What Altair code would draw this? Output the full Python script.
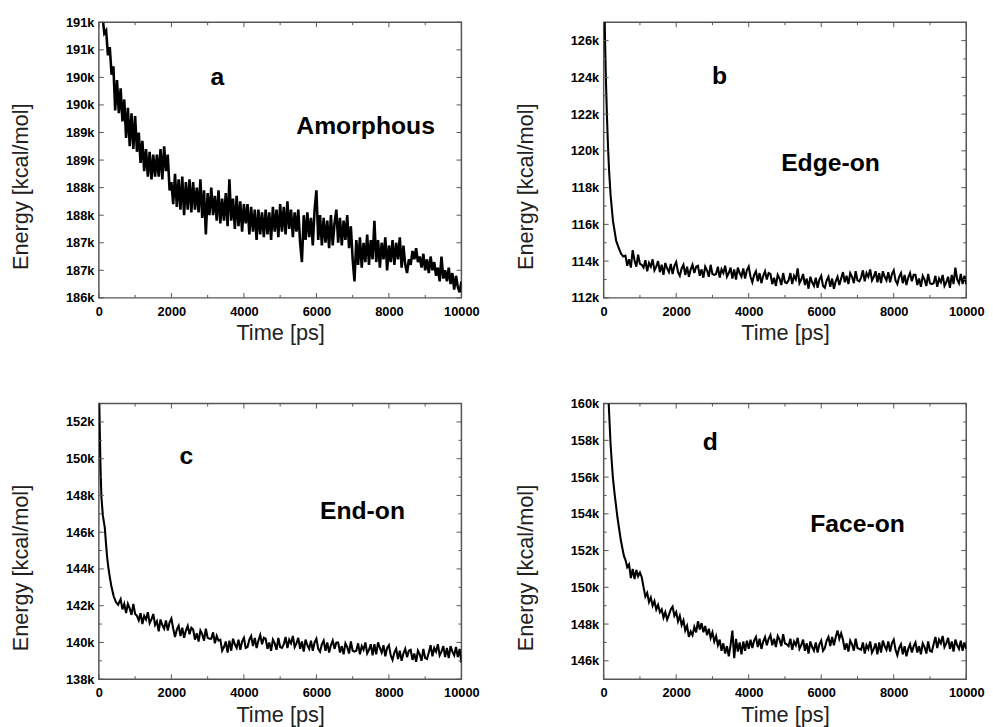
import altair as alt
import pandas as pd

FONT = "Arial, Liberation Sans, sans-serif"

# ---------------- data (energies in thousands of kcal/mol) ----------------
time_a = list(range(100, 10001, 50))
energy_a = [
    191.1, 190.8, 190.85, 190.4, 190.55, 190.05, 190.2, 189.4, 189.95, 189.35,
    189.8, 189.2, 189.6, 188.9, 189.45, 188.75, 189.35, 188.7, 189.3, 188.65,
    189.0, 188.45, 188.85, 188.3, 188.7, 188.2, 188.65, 188.15, 188.6, 188.2,
    188.6, 188.2, 188.7, 188.15, 188.75, 188.3, 188.6, 187.95, 188.1, 187.7,
    188.25, 187.65, 188.15, 187.6, 188.2, 187.5, 188.1, 187.6, 188.15, 187.55,
    188.1, 187.6, 188.0, 187.55, 188.15, 187.45, 187.95, 187.15, 187.9, 187.5,
    188.0, 187.5, 187.85, 187.4, 187.95, 187.35, 187.8, 187.4, 187.9, 187.3,
    188.15, 187.4, 187.8, 187.25, 187.85, 187.3, 187.75, 187.2, 187.7, 187.35,
    187.7, 187.15, 187.65, 187.2, 187.6, 187.05, 187.6, 187.15, 187.55, 187.1,
    187.6, 187.15, 187.55, 187.05, 187.65, 187.2, 187.6, 187.1, 187.7, 187.2,
    187.65, 187.15, 187.75, 187.25, 187.6, 187.1, 187.55, 187.2, 187.6, 187.0,
    186.65, 187.5, 187.05, 187.55, 187.1, 187.45, 186.95, 187.6, 187.95, 187.05,
    187.5, 186.95, 187.45, 187.0, 187.4, 186.9, 187.5, 186.95, 187.35, 187.6,
    187.0, 187.45, 186.95, 187.4, 187.05, 187.5, 186.9, 187.3, 186.7, 186.3,
    187.05, 186.6, 187.1, 186.55, 187.0, 186.65, 187.15, 186.6, 187.05, 186.7,
    187.4, 186.65, 187.05, 186.55, 187.0, 186.7, 187.1, 186.5, 186.95, 186.65,
    187.05, 186.6, 187.0, 186.7, 187.1, 186.55, 186.95, 186.6, 186.45, 186.7,
    186.6, 186.85, 186.7, 186.9, 186.65, 186.75, 186.55, 186.8, 186.5, 186.7,
    186.45, 186.75, 186.5, 186.65, 186.4, 186.55, 186.3, 186.75, 186.35, 186.5,
    186.3, 186.55, 186.25, 186.45, 186.15, 186.4, 186.2, 186.1, 186.3,
]

tail_time = list(range(600, 10001, 50))

head_time_b = [25, 40, 60, 90, 120, 150, 190, 255, 345, 420, 480, 540]
head_energy_b = [127.5, 125.8, 124.0, 121.9, 120.2, 118.9, 117.6, 116.2, 115.1, 114.7, 114.4, 114.25]
tail_energy_b = [
    114.3, 113.75, 114.1, 113.65, 114.6, 114.05, 113.7, 114.35, 113.85, 113.8,
    113.65, 114.05, 113.45, 113.9, 113.7, 114.1, 113.5, 113.7, 114.0, 113.4,
    113.8, 113.25, 113.9, 113.6, 113.4, 113.85, 113.3, 113.75, 113.95, 113.4,
    113.2, 113.6, 113.8, 113.25, 113.7, 113.15, 113.55, 113.8, 113.35, 113.7,
    113.75, 113.2, 113.55, 113.1, 113.7, 113.5, 113.15, 113.8, 113.3, 113.25,
    113.3, 113.7, 113.1, 113.55, 113.35, 113.75, 113.15, 113.35, 113.65, 113.05,
    113.55, 113.0, 113.65, 113.35, 113.15, 113.6, 113.05, 113.5, 113.7, 113.15,
    112.85, 113.25, 113.45, 112.9, 113.35, 112.8, 113.2, 113.45, 113.0, 113.35,
    113.3, 112.75, 113.1, 112.65, 113.25, 113.05, 112.7, 113.35, 112.85, 112.8,
    112.95, 113.35, 112.75, 113.2, 113.0, 113.6, 112.8, 113.0, 113.3, 112.7,
    113.05, 112.5, 113.15, 112.85, 112.65, 113.1, 112.55, 113.0, 113.2, 112.65,
    112.55, 112.95, 113.15, 112.6, 113.05, 112.5, 112.9, 113.15, 112.7, 113.05,
    113.4, 112.85, 113.2, 112.75, 113.35, 113.15, 112.8, 113.45, 112.95, 112.9,
    113.1, 113.5, 112.9, 113.35, 113.15, 113.55, 112.95, 113.15, 113.45, 112.85,
    113.35, 112.8, 113.45, 113.15, 112.95, 113.4, 112.85, 113.3, 113.5, 112.95,
    112.75, 113.15, 113.35, 112.8, 113.25, 112.7, 113.1, 113.35, 112.9, 113.25,
    113.25, 112.7, 113.05, 112.6, 113.2, 113.0, 112.65, 113.3, 112.8, 112.75,
    112.8, 113.2, 112.6, 113.05, 112.85, 113.25, 112.65, 112.85, 113.15, 112.55,
    113.25, 112.75, 113.65, 113.0, 112.8, 113.3, 112.75, 113.2,
    112.75,
]

head_time_c = [8, 25, 45, 70, 110, 163, 200, 227, 260, 300, 350, 410, 470, 530]
head_energy_c = [153.5, 151.5, 149.5, 147.9, 146.9, 146.25, 145.3, 144.65, 144.1, 143.57, 143.0, 142.5, 142.2, 142.05]
tail_energy_c = [
    142.35, 141.8, 142.1, 141.6, 142.1, 141.85, 141.5, 142.1, 141.55, 141.45,
    141.2, 141.6, 141.0, 141.45, 141.25, 141.65, 141.05, 141.25, 141.55, 140.95,
    141.15, 140.6, 141.25, 140.95, 140.75, 141.2, 140.65, 141.1, 141.3, 140.75,
    140.3, 140.7, 140.9, 140.35, 140.8, 140.25, 140.65, 140.9, 140.45, 140.8,
    140.7, 140.15, 140.5, 140.05, 140.65, 140.45, 140.1, 140.75, 140.25, 140.2,
    140.2, 140.55, 139.95, 140.35, 140.1, 140.15, 139.55, 139.75, 140.05, 139.45,
    140.1, 139.55, 140.2, 139.9, 139.7, 140.15, 139.6, 140.05, 140.25, 139.7,
    139.75, 140.15, 140.35, 139.8, 140.25, 139.7, 140.1, 140.4, 139.9, 140.25,
    140.2, 139.65, 140.0, 139.55, 140.15, 139.95, 139.6, 140.25, 139.75, 139.7,
    139.9, 140.3, 139.7, 140.15, 139.95, 140.35, 139.75, 139.95, 140.25, 139.65,
    140.05, 139.5, 140.15, 139.85, 139.65, 140.1, 139.55, 140.0, 140.2, 139.65,
    139.5, 139.9, 140.1, 139.55, 140.0, 139.45, 139.85, 140.1, 139.65, 140.0,
    140.0, 139.45, 139.8, 139.35, 139.95, 139.75, 139.4, 140.05, 139.55, 139.5,
    139.55, 139.95, 139.35, 139.8, 139.6, 140.0, 139.4, 139.6, 139.9, 139.3,
    139.9, 139.35, 140.0, 139.7, 139.45, 139.85, 139.25, 139.7, 139.85, 139.3,
    139.05, 139.45, 139.65, 139.1, 139.55, 139.0, 139.4, 139.65, 139.2, 139.55,
    139.6, 139.05, 139.4, 138.95, 139.55, 139.35, 139.0, 139.65, 139.15, 139.1,
    139.45, 139.85, 139.25, 139.7, 139.5, 139.9, 139.3, 139.5, 139.8, 139.2,
    139.7, 139.15, 139.8, 139.5, 139.3, 139.75, 139.2, 139.65,
    138.9,
]

head_time_d = [130, 150, 190, 220, 253, 300, 343, 380, 425, 470, 518, 560]
head_energy_d = [160.4, 159.5, 157.8, 156.9, 156.0, 155.1, 154.4, 153.8, 153.2, 152.6, 152.1, 151.7]
tail_energy_d = [
    151.5, 151.1, 151.25, 150.5, 151.0, 150.45, 150.95, 150.6, 150.8, 150.55,
    150.0, 149.5, 149.7, 149.2, 149.45, 149.0, 149.25, 148.8, 149.05, 148.65,
    148.8, 148.35, 148.65, 148.25, 148.5, 148.8, 148.95, 148.45, 148.65, 148.15,
    148.45, 147.95, 148.2, 147.65, 147.9, 147.3, 147.6, 147.4, 147.85, 147.55,
    148.15, 147.7, 148.05, 147.55, 147.9, 147.4, 147.75, 147.25, 147.55, 147.05,
    147.35, 146.85, 147.15, 146.55, 146.95, 146.4, 146.8, 146.25, 146.85, 147.65,
    146.15, 147.2, 146.5, 147.0, 146.35, 147.05, 146.55, 147.1, 146.65, 147.15,
    146.7, 147.1, 147.3, 146.75, 147.2, 146.65, 147.05, 147.3, 146.85, 147.2,
    147.4, 146.85, 147.2, 146.75, 147.35, 147.15, 146.8, 147.45, 146.95, 146.9,
    146.8, 147.2, 146.6, 147.05, 146.85, 147.25, 146.65, 146.85, 147.15, 146.55,
    146.95, 146.4, 147.05, 146.75, 146.55, 147.0, 146.45, 146.9, 147.1, 146.55,
    146.7, 147.1, 147.3, 146.8, 147.3, 146.85, 147.3, 147.65, 147.2, 147.5,
    147.15, 146.6, 146.95, 146.5, 147.1, 146.9, 146.55, 147.2, 146.7, 146.65,
    146.6, 147.0, 146.4, 146.85, 146.65, 147.05, 146.45, 146.65, 146.95, 146.35,
    147.0, 146.45, 147.1, 146.8, 146.6, 147.05, 146.5, 146.95, 147.15, 146.6,
    146.3, 146.7, 146.9, 146.35, 146.8, 146.25, 146.65, 146.9, 146.45, 146.8,
    147.0, 146.45, 146.8, 146.35, 146.95, 146.75, 146.4, 147.05, 146.55, 146.5,
    146.9, 147.3, 146.7, 147.15, 146.95, 147.35, 146.75, 146.95, 147.25, 146.65,
    147.05, 146.5, 147.15, 146.85, 146.65, 147.1, 146.55, 147.0,
    146.65,
]

assert len(time_a) == len(energy_a), (len(time_a), len(energy_a))
for name, tail in (("b", tail_energy_b), ("c", tail_energy_c), ("d", tail_energy_d)):
    assert len(tail) == len(tail_time), (name, len(tail), len(tail_time))

# axis ticks
x_major = [0, 2000, 4000, 6000, 8000, 10000]
x_minor = [1000, 3000, 5000, 7000, 9000]
y_major_a = [186, 186.5, 187, 187.5, 188, 188.5, 189, 189.5, 190, 190.5, 191]
y_minor_a = []
y_major_b = [112, 114, 116, 118, 120, 122, 124, 126]
y_minor_b = [113, 115, 117, 119, 121, 123, 125]
y_major_c = [138, 140, 142, 144, 146, 148, 150, 152]
y_minor_c = [139, 141, 143, 145, 147, 149, 151]
y_major_d = [146, 148, 150, 152, 154, 156, 158, 160]
y_minor_d = [147, 149, 151, 153, 155, 157, 159]

# panel annotations
notes_a = {"label": ["a", "Amorphous"], "t": [3270, 7357], "e": [189.87, 188.97]}
notes_b = {"label": ["b", "Edge-on"], "t": [3197, 6257], "e": [123.66, 118.93]}
notes_c = {"label": ["c", "End-on"], "t": [2410, 7270], "e": [149.73, 146.7]}
notes_d = {"label": ["d", "Face-on"], "t": [2943, 7003], "e": [157.48, 153.02]}

# ---------------- chart ----------------
W, H = 367, 279
TICK = "#555555"


def panel(time, energy, dom, ymaj, ymin, label_expr, notes, title_y, line_w):
    df = pd.DataFrame({"t": time, "e": energy})
    xs = alt.Scale(domain=[0, 10000], nice=False, zero=False)
    ys = alt.Scale(domain=dom, nice=False, zero=False)
    x_axis = alt.Axis(
        values=x_major, format="d", title="Time [ps]", ticks=False, domain=False, grid=False,
        labelFont=FONT, labelFontSize=13, labelFontWeight="bold", labelColor="black",
        labelPadding=8, labelFlush=False, labelOverlap=False,
        titleFont=FONT, titleFontSize=22, titleFontWeight="normal", titleColor="#222222",
        titleY=title_y, titleBaseline="middle")
    y_axis = alt.Axis(
        values=ymaj, labelExpr=label_expr, title="Energy [kcal/mol]", ticks=False,
        domain=False, grid=False, labelFont=FONT, labelFontSize=13, labelFontWeight="bold",
        labelColor="black", labelPadding=5, labelFlush=False, labelOverlap=False,
        tickCount=len(ymaj),
        titleFont=FONT, titleFontSize=22, titleFontWeight="normal", titleColor="#222222",
        titleX=-79, titleY=166, titleBaseline="middle", titleAlign="center")
    line = alt.Chart(df).mark_line(color="black", strokeWidth=line_w, clip=True).encode(
        x=alt.X("t:Q", scale=xs, axis=x_axis),
        y=alt.Y("e:Q", scale=ys, axis=y_axis),
    )
    layers = [line]

    def yticks(vals, length):
        if not vals:
            return []
        base = alt.Chart(pd.DataFrame({"v": vals})).mark_rule(color=TICK, strokeWidth=1)
        yy = alt.Y("v:Q", scale=ys, axis=y_axis)
        return [base.encode(y=yy, x=alt.value(0), x2=alt.value(length)),
                base.encode(y=yy, x=alt.value(W), x2=alt.value(W - length))]

    def xticks(vals, length):
        base = alt.Chart(pd.DataFrame({"v": vals})).mark_rule(color=TICK, strokeWidth=1)
        xx = alt.X("v:Q", scale=xs, axis=x_axis)
        return [base.encode(x=xx, y=alt.value(H), y2=alt.value(H - length)),
                base.encode(x=xx, y=alt.value(0), y2=alt.value(length))]

    layers += yticks(ymaj, 5) + yticks(ymin, 3) + xticks(x_major, 5) + xticks(x_minor, 3)

    text = alt.Chart(pd.DataFrame(notes)).mark_text(
        font=FONT, fontSize=25, fontWeight="bold", color="black", align="center", baseline="alphabetic"
    ).encode(
        x=alt.X("t:Q", scale=xs, axis=x_axis),
        y=alt.Y("e:Q", scale=ys, axis=y_axis),
        text="label:N",
    )
    layers.append(text)
    return alt.layer(*layers).properties(width=W, height=H)


pa = panel(time_a, energy_a, [186, 191], y_major_a, y_minor_a, "ceil(datum.value) + 'k'", notes_a, 35, 2.6)
pb = panel(head_time_b + tail_time, head_energy_b + tail_energy_b, [112, 127], y_major_b, y_minor_b,
           "datum.value + 'k'", notes_b, 35, 2.1)
pc = panel(head_time_c + tail_time, head_energy_c + tail_energy_c, [138, 153], y_major_c, y_minor_c,
           "datum.value + 'k'", notes_c, 36, 2.1)
pd_ = panel(head_time_d + tail_time, head_energy_d + tail_energy_d, [145, 160], y_major_d, y_minor_d,
            "datum.value + 'k'", notes_d, 36, 2.1)

chart = alt.concat(
    pa, pb, pc, pd_, columns=2, spacing={"row": 53, "column": 34},
).properties(
    padding={"left": 1, "top": 3, "right": 0, "bottom": 0},
    background="white",
).configure_view(
    stroke="#555555", strokeWidth=1.5
).configure_axis(
    labelOverlap=False, labelBound=False
)

chart.save("out.html", embed_options={"renderer": "svg", "actions": False})
